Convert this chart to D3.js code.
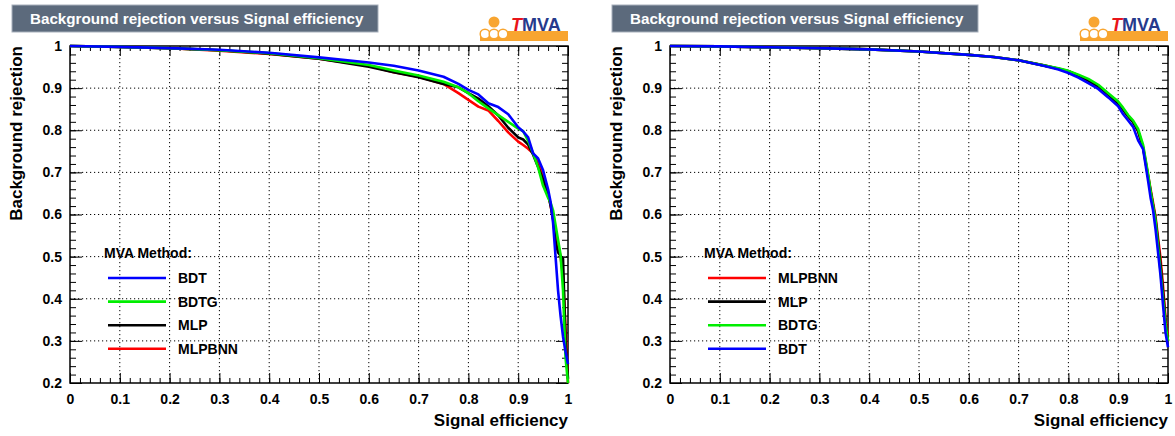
<!DOCTYPE html>
<html>
<head>
<meta charset="utf-8">
<title>Background rejection versus Signal efficiency</title>
<script src="https://d3js.org/d3.v7.min.js"></script>
<style>
  body { margin: 0; background: #fff; }
  text { font-family: "Liberation Sans", Arial, Helvetica, sans-serif; font-weight: bold; }
</style>
</head>
<body>
<div id="chart"></div>
<script>
// signal efficiency grid (same for both panels)
const eff = [0, 0.1, 0.2, 0.3, 0.4, 0.5, 0.6, 0.65, 0.7, 0.75, 0.78, 0.8, 0.82, 0.84, 0.86, 0.88,
             0.9, 0.91, 0.92, 0.93, 0.94, 0.95, 0.96, 0.965, 0.97, 0.975, 0.98, 0.985, 0.99, 0.995, 1.0];

// left panel: background rejection per method
const leftBDT    = [1.0, 0.998, 0.995, 0.991, 0.984, 0.973, 0.961, 0.953, 0.942, 0.927, 0.910, 0.896, 0.885, 0.864, 0.855, 0.838,
                    0.807, 0.797, 0.783, 0.745, 0.733, 0.705, 0.660, 0.630, 0.580, 0.500, 0.420, 0.360, 0.310, 0.275, 0.245];
const leftBDTG   = [1.0, 0.998, 0.995, 0.990, 0.983, 0.971, 0.955, 0.942, 0.930, 0.915, 0.902, 0.888, 0.869, 0.852, 0.836, 0.820,
                    0.804, 0.798, 0.775, 0.745, 0.712, 0.668, 0.640, 0.628, 0.610, 0.575, 0.540, 0.505, 0.420, 0.260, 0.200];
const leftMLP    = [1.0, 0.998, 0.995, 0.990, 0.982, 0.970, 0.951, 0.938, 0.926, 0.910, 0.902, 0.888, 0.875, 0.857, 0.835, 0.806,
                    0.783, 0.778, 0.766, 0.742, 0.713, 0.683, 0.648, 0.622, 0.590, 0.535, 0.510, 0.502, 0.495, 0.300, 0.210];
const leftMLPBNN = [1.0, 0.998, 0.995, 0.989, 0.981, 0.970, 0.953, 0.938, 0.927, 0.910, 0.888, 0.872, 0.856, 0.847, 0.822, 0.795,
                    0.773, 0.765, 0.756, 0.745, 0.722, 0.697, 0.650, 0.622, 0.590, 0.560, 0.530, 0.500, 0.455, 0.330, 0.200];

// right panel
const rightMLPBNN = [1.0, 0.999, 0.997, 0.995, 0.992, 0.987, 0.979, 0.974, 0.966, 0.954, 0.946, 0.940, 0.930, 0.918, 0.903, 0.885,
                     0.864, 0.850, 0.834, 0.820, 0.798, 0.760, 0.693, 0.660, 0.628, 0.594, 0.545, 0.496, 0.430, 0.355, 0.310];
const rightMLP    = [1.0, 0.999, 0.997, 0.995, 0.992, 0.987, 0.979, 0.974, 0.966, 0.954, 0.946, 0.940, 0.930, 0.918, 0.904, 0.885,
                     0.863, 0.848, 0.833, 0.819, 0.798, 0.758, 0.690, 0.655, 0.622, 0.588, 0.535, 0.480, 0.415, 0.345, 0.300];
const rightBDTG   = [1.0, 0.999, 0.997, 0.995, 0.992, 0.987, 0.979, 0.974, 0.966, 0.954, 0.947, 0.941, 0.932, 0.922, 0.908, 0.888,
                     0.868, 0.853, 0.836, 0.823, 0.803, 0.765, 0.696, 0.655, 0.620, 0.585, 0.525, 0.465, 0.400, 0.340, 0.300];
const rightBDT    = [1.0, 0.999, 0.997, 0.995, 0.992, 0.987, 0.979, 0.974, 0.966, 0.953, 0.944, 0.936, 0.925, 0.912, 0.898, 0.878,
                     0.857, 0.838, 0.823, 0.808, 0.776, 0.755, 0.680, 0.640, 0.610, 0.565, 0.510, 0.455, 0.385, 0.320, 0.285];

const methodColors = { BDT: "#0000ff", BDTG: "#00ee00", MLP: "#000000", MLPBNN: "#ff0000" };

const xTicks = d3.range(0, 1.0001, 0.1);
const yTicks = d3.range(0.2, 1.0001, 0.1);
const title = "Background rejection versus Signal efficiency";

const panels = [
    { left: 70, legend: ["BDT", "BDTG", "MLP", "MLPBNN"],
      series: { BDT: leftBDT, BDTG: leftBDTG, MLP: leftMLP, MLPBNN: leftMLPBNN } },
    { left: 670, legend: ["MLPBNN", "MLP", "BDTG", "BDT"],
      series: { BDT: rightBDT, BDTG: rightBDTG, MLP: rightMLP, MLPBNN: rightMLPBNN } }
];

const width = 1175, height = 436;
const svg = d3.select("#chart").append("svg")
    .attr("width", width).attr("height", height);

const plotTop = 46, plotBottom = 383, plotW = 498;
const y = d3.scaleLinear().domain([0.2, 1]).range([plotBottom, plotTop]);

panels.forEach(p => {
    const g = svg.append("g");
    const x = d3.scaleLinear().domain([0, 1]).range([p.left, p.left + plotW]);

    // title box
    g.append("rect")
        .attr("x", p.left - 58).attr("y", 5).attr("width", 366).attr("height", 27)
        .attr("fill", "#5c6a7c").attr("stroke", "#a7b0bb").attr("stroke-width", 1);
    g.append("text")
        .attr("x", p.left - 40).attr("y", 24)
        .attr("fill", "#fff").attr("font-size", 15.2)
        .text(title);

    // TMVA logo
    const lx = p.left + plotW;
    const orange = "#f8a530";
    g.append("rect").attr("x", lx - 88).attr("y", 31).attr("width", 88).attr("height", 10).attr("fill", orange);
    g.append("circle").attr("cx", lx - 74).attr("cy", 22).attr("r", 5.5).attr("fill", orange);
    [-83, -74, -65].forEach(dx => {
        g.append("circle").attr("cx", lx + dx).attr("cy", 34).attr("r", 4.8)
            .attr("fill", "#fff").attr("stroke", orange).attr("stroke-width", 1.5);
    });
    const logo = g.append("text").attr("x", lx - 57).attr("y", 31).attr("font-size", 18);
    logo.append("tspan").attr("fill", "#e8141a").attr("font-style", "italic").text("T");
    logo.append("tspan").attr("fill", "#263a8c").text("MVA");

    // grid
    const grid = g.append("g").attr("stroke", "#000").attr("stroke-width", 1)
        .attr("stroke-dasharray", "1.2,2.8");
    grid.selectAll(".gx").data(xTicks.slice(1, -1)).join("line")
        .attr("x1", d => x(d)).attr("x2", d => x(d)).attr("y1", plotTop).attr("y2", plotBottom);
    grid.selectAll(".gy").data(yTicks.slice(1, -1)).join("line")
        .attr("y1", d => y(d)).attr("y2", d => y(d)).attr("x1", x(0)).attr("x2", x(1));

    // axes: major + minor ticks on all four sides
    const xMinor = d3.range(0, 1.0001, 0.02);
    const yMinor = d3.range(0.2, 1.0001, 0.02);
    const fmt = d3.format("");

    g.append("g").attr("transform", `translate(0,${plotBottom})`)
        .call(d3.axisBottom(x).tickValues(xMinor).tickSize(-5).tickFormat(""));
    g.append("g").attr("transform", `translate(0,${plotBottom})`).attr("class", "xlab")
        .call(d3.axisBottom(x).tickValues(xTicks).tickSize(-10).tickPadding(11).tickFormat(fmt));
    g.append("g").attr("transform", `translate(0,${plotTop})`)
        .call(d3.axisTop(x).tickValues(xMinor).tickSize(-5).tickFormat(""));
    g.append("g").attr("transform", `translate(0,${plotTop})`)
        .call(d3.axisTop(x).tickValues(xTicks).tickSize(-10).tickFormat(""));

    g.append("g").attr("transform", `translate(${x(0)},0)`)
        .call(d3.axisLeft(y).tickValues(yMinor).tickSize(-6).tickFormat(""));
    g.append("g").attr("transform", `translate(${x(0)},0)`).attr("class", "ylab")
        .call(d3.axisLeft(y).tickValues(yTicks).tickSize(-12).tickPadding(8).tickFormat(fmt));
    g.append("g").attr("transform", `translate(${x(1)},0)`)
        .call(d3.axisRight(y).tickValues(yMinor).tickSize(-6).tickFormat(""));
    g.append("g").attr("transform", `translate(${x(1)},0)`)
        .call(d3.axisRight(y).tickValues(yTicks).tickSize(-12).tickFormat(""));

    g.selectAll(".domain").remove();
    g.selectAll(".tick line").attr("stroke", "#000").attr("stroke-width", 1);
    g.selectAll(".xlab .tick text, .ylab .tick text")
        .attr("font-size", 14).attr("font-weight", "bold").attr("fill", "#000")
        .attr("font-family", "'Liberation Sans', Arial, Helvetica, sans-serif");

    // frame
    g.append("rect").attr("x", x(0)).attr("y", plotTop).attr("width", plotW).attr("height", plotBottom - plotTop)
        .attr("fill", "none").attr("stroke", "#000").attr("stroke-width", 1.5);

    // ROC curves (BDT drawn last, on top)
    const line = d3.line().x((d, i) => x(eff[i])).y(d => y(d));
    ["MLPBNN", "MLP", "BDTG", "BDT"].forEach(m => {
        g.append("path").datum(p.series[m])
            .attr("d", line)
            .attr("fill", "none").attr("stroke", methodColors[m]).attr("stroke-width", 2.6)
            .attr("stroke-linejoin", "round");
    });

    // axis titles
    g.append("text")
        .attr("transform", `translate(${p.left - 48},${plotTop}) rotate(-90)`)
        .attr("text-anchor", "end").attr("font-size", 17)
        .text("Background rejection");
    g.append("text")
        .attr("x", x(1)).attr("y", 426).attr("text-anchor", "end").attr("font-size", 17)
        .text("Signal efficiency");

    // legend
    const leg = g.append("g");
    leg.append("text").attr("x", p.left + 34).attr("y", 258).attr("font-size", 14).text("MVA Method:");
    p.legend.forEach((m, i) => {
        const ly = 278 + i * 23.6;
        leg.append("line").attr("x1", p.left + 38).attr("x2", p.left + 96).attr("y1", ly).attr("y2", ly)
            .attr("stroke", methodColors[m]).attr("stroke-width", 2.6);
        leg.append("text").attr("x", p.left + 108).attr("y", ly).attr("dy", "0.36em")
            .attr("font-size", 14).text(m);
    });
});
</script>
</body>
</html>
